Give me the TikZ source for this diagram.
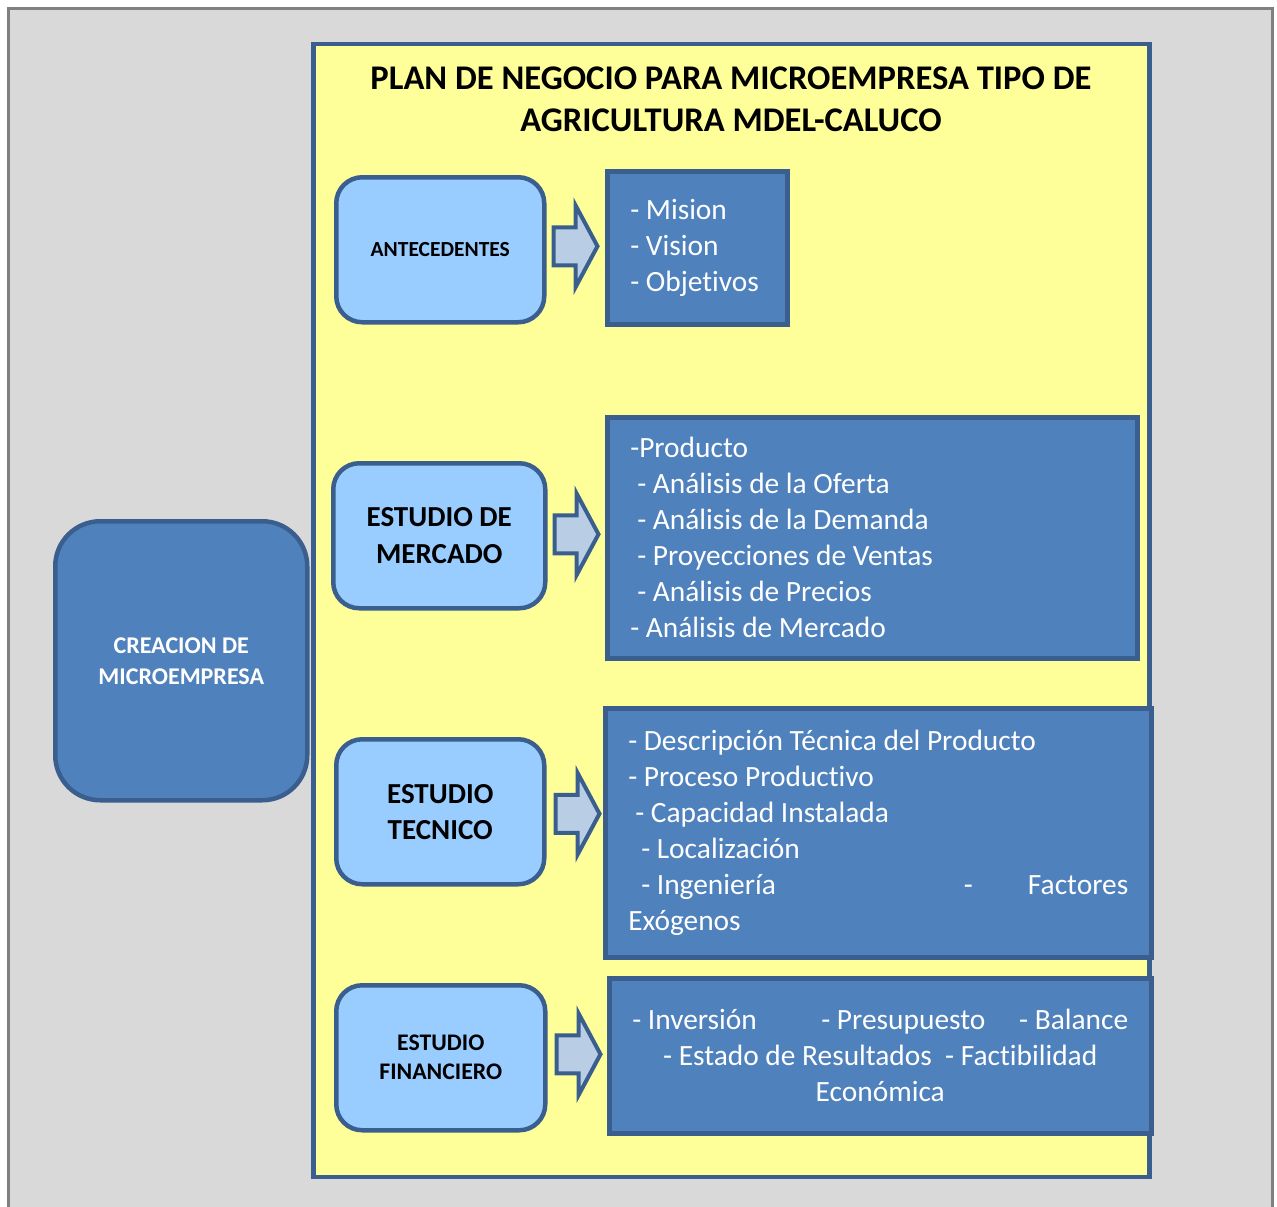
\documentclass[tikz,border=0pt]{standalone}
\usepackage{fontspec}
\setmainfont{Carlito}[Ligatures=NoCommon]
\usetikzlibrary{calc}
\definecolor{frameGray}{HTML}{808080}
\definecolor{paneGray}{HTML}{D9D9D9}
\definecolor{planYellow}{HTML}{FFFF99}
\definecolor{edgeBlue}{HTML}{3A5F8F}
\definecolor{fillBlue}{HTML}{4F81BD}
\definecolor{lightBlue}{HTML}{99CCFF}
\definecolor{arrowBlue}{HTML}{B9CDE5}

\tikzset{
  stagebox/.style={draw=edgeBlue, line width=4.5pt, fill=lightBlue, rounded corners=26pt,
    align=center, text=black, inner sep=0pt, anchor=north west},
  listbox/.style={draw=edgeBlue, line width=4.5pt, fill=fillBlue, text=white,
    inner xsep=23pt, inner ysep=0pt, anchor=north west,
    font=\fontsize{29.4}{36}\selectfont},
  arrowshape/.style={draw=edgeBlue, line width=4pt, fill=arrowBlue, line join=miter},
  pics/blockarrow/.style={code={
    \draw[arrowshape] (0,-19) -- (22,-19) -- (22,-41) -- (44,0) -- (22,41) -- (22,19) -- (0,19) -- cycle;}},
}

\begin{document}
\begin{tikzpicture}[x=1pt, y=-1pt]
  \useasboundingbox (0,0) rectangle (1277,1207);
  \fill[white] (0,0) rectangle (1277,1207);

  % outer grey pane, open at the bottom
  \begin{scope}
    \clip (0,0) rectangle (1277,1207);
    \draw[frameGray, fill=paneGray, line width=3pt] (8.5,8.5) rectangle (1272.5,1230);
  \end{scope}

  % yellow plan panel
  \draw[edgeBlue, fill=planYellow, line width=4.5pt] (313.5,44) rectangle (1149.5,1177);

  \node[font=\bfseries\fontsize{34.6}{42}\selectfont, align=center] (title) at (731,99)
    {PLAN DE NEGOCIO PARA MICROEMPRESA TIPO DE\\AGRICULTURA MDEL-CALUCO};

  % main block on the left
  \node[draw=edgeBlue, line width=4.5pt, fill=fillBlue, rounded corners=45pt,
        minimum width=252, minimum height=279, anchor=north west, inner sep=0pt,
        text=white, align=center, font=\bfseries\fontsize{24}{31}\selectfont]
        (crea) at (53,519) {CREACION DE\\MICROEMPRESA};

  % stages
  \node[stagebox, minimum width=208, minimum height=145, font=\bfseries\fontsize{21.5}{26}\selectfont]
    (ant) at (334,175) {ANTECEDENTES};
  \node[stagebox, minimum width=212, minimum height=145, font=\bfseries\fontsize{29}{37}\selectfont]
    (mer) at (331,461) {ESTUDIO DE\\MERCADO};
  \node[stagebox, minimum width=208, minimum height=145, font=\bfseries\fontsize{29}{36}\selectfont]
    (tec) at (334,737) {ESTUDIO\\TECNICO};
  \node[stagebox, minimum width=209, minimum height=145, font=\bfseries\fontsize{23.8}{29}\selectfont]
    (fin) at (334,983) {ESTUDIO\\FINANCIERO};

  % contents
  \node[listbox, minimum width=180, minimum height=153, text width=134, align=flush left]
    (antl) at (605,169) {- Mision\\- Vision\\- Objetivos};
  \node[listbox, minimum width=530, minimum height=241, text width=484, align=flush left]
    (merl) at (605,415) {-Producto\\
      \hspace*{7pt}- Análisis de la Oferta\\
      \hspace*{7pt}- Análisis de la Demanda\\
      \hspace*{7pt}- Proyecciones de Ventas\\
      \hspace*{7pt}- Análisis de Precios\\
      - Análisis de Mercado};
  \node[listbox, minimum width=546, minimum height=249, text width=500, align=flush left]
    (tecl) at (603,706) {- Descripción Técnica del Producto\\
      - Proceso Productivo\\
      \hspace*{7pt}- Capacidad Instalada\\
      \hspace*{13pt}- Localización\\
      \hspace*{13pt}- Ingeniería\hspace{0pt plus 1filll}-\hspace{55pt}Factores\\
      Exógenos};
  \node[listbox, minimum width=542, minimum height=155, text width=496, align=flush center]
    (finl) at (607,976) {- Inversión\hspace{0pt plus 63filll}- Presupuesto\hspace{0pt plus 33filll}- Balance\\
      - Estado de Resultados\ \ - Factibilidad\\
      Económica};

  % block arrows between stages and contents
  \pic at ($(ant.east)+(7,-3.5)$) {blockarrow};
  \pic at ($(mer.east)+(7,-1.5)$) {blockarrow};
  \pic at ($(tec.east)+(9,2)$) {blockarrow};
  \pic at ($(fin.east)+(9,-3.5)$) {blockarrow};
\end{tikzpicture}
\end{document}
